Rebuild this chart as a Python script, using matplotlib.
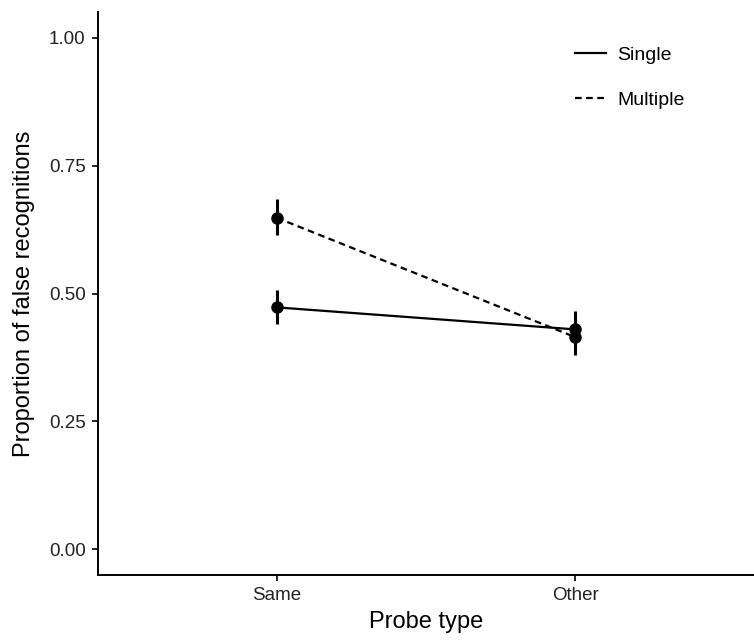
import numpy as np
import matplotlib.pyplot as plt

plt.rcParams['font.family'] = ['Liberation Sans', 'DejaVu Sans']

# probe types and mean proportions of false recognitions
probe_types = ["Same", "Other"]
single_mean = [0.473, 0.430]
single_lo = [0.440, 0.395]
single_hi = [0.507, 0.465]
multiple_mean = [0.648, 0.415]
multiple_lo = [0.615, 0.380]
multiple_hi = [0.685, 0.450]

fig = plt.figure(figsize=(7.54, 6.41), dpi=100)
ax = fig.add_axes([0.130, 0.103, 0.870, 0.878])

xs = np.arange(1, len(probe_types) + 1)

def draw_series(mean, lo, hi, style, label):
    mean = np.array(mean)
    yerr = [mean - np.array(lo), np.array(hi) - mean]
    ax.errorbar(xs, mean, yerr=yerr, fmt='none', ecolor='black',
                elinewidth=2.2, capsize=0, linestyle=style)
    ax.plot(xs, mean, color='black', linestyle=style, linewidth=1.6, label=label)
    ax.plot(xs, mean, 'o', color='black', markersize=8)

draw_series(single_mean, single_lo, single_hi, '-', 'Single')
draw_series(multiple_mean, multiple_lo, multiple_hi, (0, (3, 2)), 'Multiple')

ax.set_xlim(0.4, 2.6)
ax.set_ylim(-0.05, 1.05)
ax.set_xticks(xs)
ax.set_xticklabels(probe_types)
ax.set_yticks([0, 0.25, 0.5, 0.75, 1.0])
ax.set_yticklabels(["0.00", "0.25", "0.50", "0.75", "1.00"])
ax.tick_params(labelsize=13.5, labelcolor='#222222', length=4, width=1.2, pad=5)

for side in ['top', 'right']:
    ax.spines[side].set_visible(False)
for side in ['left', 'bottom']:
    ax.spines[side].set_linewidth(1.4)

ax.set_xlabel("Probe type", fontsize=17, labelpad=5)
ax.set_ylabel("Proportion of false recognitions", fontsize=17, labelpad=10)

ax.legend(loc='upper left', bbox_to_anchor=(0.70, 0.97), frameon=False,
          fontsize=14, handlelength=1.6, labelspacing=1.4, handletextpad=0.6)

fig.savefig("out.png", dpi=100)
